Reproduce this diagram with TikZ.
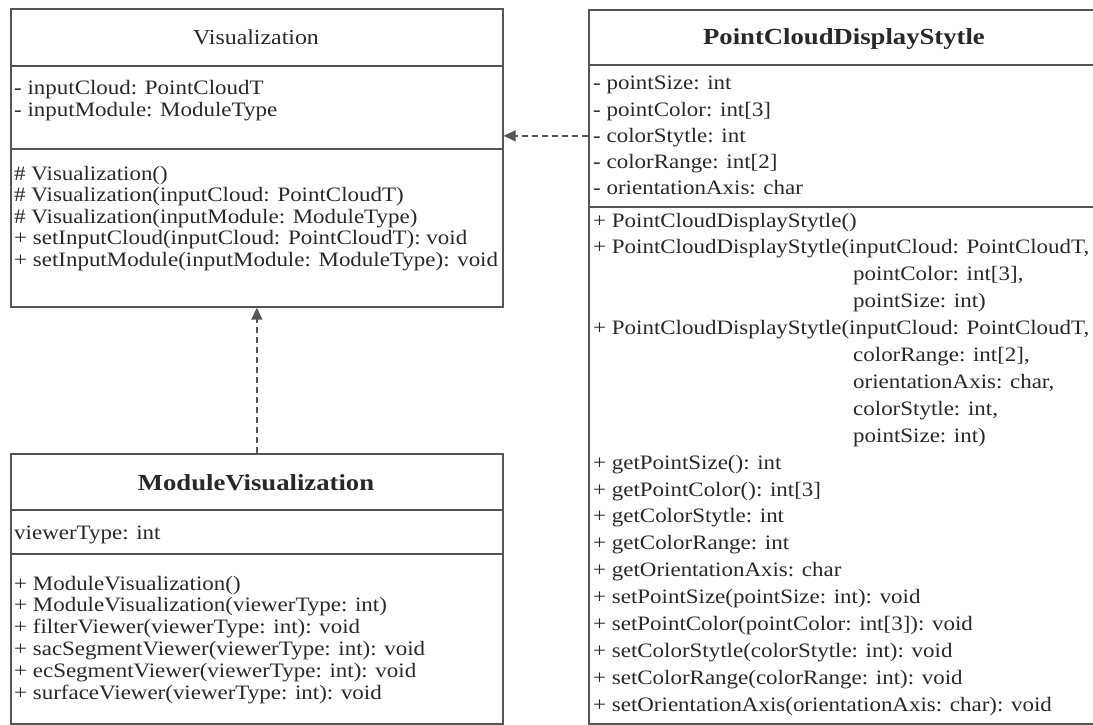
\documentclass[tikz,border=0pt]{standalone}
\usepackage{fontspec}
\setmainfont{Liberation Serif}[FakeStretch=1.12]
\newfontfamily\ttlfont{Liberation Serif}[FakeStretch=1.16]
\usetikzlibrary{arrows.meta}
\definecolor{linegray}{RGB}{85,85,85}
\definecolor{txtgray}{RGB}{40,40,40}
\begin{document}
\begin{tikzpicture}[x=1pt,y=-1pt,
  box/.style={draw=linegray, line width=1.7pt, rectangle, inner sep=0pt, anchor=north west},
  txt/.style={anchor=base west, inner sep=0pt, text=txtgray, font=\fontsize{20.5}{22}\selectfont},
  ttl/.style={anchor=base, inner sep=0pt, text=txtgray, font=\ttlfont\fontsize{23}{25}\selectfont\bfseries},
  ttlreg/.style={anchor=base, inner sep=0pt, text=txtgray, font=\fontsize{21.3}{23}\selectfont},
  dep/.style={draw=linegray, line width=1.5pt, dash pattern=on 6pt off 4pt, -{Triangle[length=12pt,width=11pt]}}
]
\useasboundingbox (0,0) rectangle (1093,725);

% ---------- Visualization ----------
\node[box, minimum width=492pt, minimum height=57pt]  (vT) at (10,8) {};
\node[box, minimum width=492pt, minimum height=83pt]  (vA) at (10,65) {};
\node[box, minimum width=492pt, minimum height=158pt] (vO) at (10,148) {};
\node[ttlreg] (vTitle) at (256,45) {Visualization};
\node[txt] (va1) at (14,95)  {- inputCloud: PointCloudT};
\node[txt] (va2) at (14,117) {- inputModule: ModuleType};
\node[txt] (vo1) at (14,180)   {\# Visualization()};
\node[txt] (vo2) at (14,201.5) {\# Visualization(inputCloud: PointCloudT)};
\node[txt] (vo3) at (14,223)   {\# Visualization(inputModule: ModuleType)};
\node[txt] (vo4) at (14,244.5) {+ setInputCloud(inputCloud: PointCloudT): void};
\node[txt] (vo5) at (14,266)   {+ setInputModule(inputModule: ModuleType): void};

% ---------- PointCloudDisplayStytle ----------
\node[box, minimum width=508pt, minimum height=55pt]  (pT) at (588,9) {};
\node[box, minimum width=508pt, minimum height=142pt] (pA) at (588,64) {};
\node[box, minimum width=508pt, minimum height=517pt] (pO) at (588,206) {};
\node[ttl] (pTitle) at (844,45) {PointCloudDisplayStytle};
\node[txt] (pa1) at (593,90)  {- pointSize: int};
\node[txt] (pa2) at (593,116) {- pointColor: int[3]};
\node[txt] (pa3) at (593,142) {- colorStytle: int};
\node[txt] (pa4) at (593,168) {- colorRange: int[2]};
\node[txt] (pa5) at (593,194) {- orientationAxis: char};
\node[txt] (po0)  at (593,227.0) {+ PointCloudDisplayStytle()};
\node[txt] (po1)  at (593,253.9) {+ PointCloudDisplayStytle(inputCloud: PointCloudT,};
\node[txt] (po2)  at (853,280.8) {pointColor: int[3],};
\node[txt] (po3)  at (853,307.7) {pointSize: int)};
\node[txt] (po4)  at (593,334.6) {+ PointCloudDisplayStytle(inputCloud: PointCloudT,};
\node[txt] (po5)  at (853,361.5) {colorRange: int[2],};
\node[txt] (po6)  at (853,388.4) {orientationAxis: char,};
\node[txt] (po7)  at (853,415.3) {colorStytle: int,};
\node[txt] (po8)  at (853,442.2) {pointSize: int)};
\node[txt] (po9)  at (593,469.1) {+ getPointSize(): int};
\node[txt] (po10) at (593,496.0) {+ getPointColor(): int[3]};
\node[txt] (po11) at (593,522.9) {+ getColorStytle: int};
\node[txt] (po12) at (593,549.8) {+ getColorRange: int};
\node[txt] (po13) at (593,576.7) {+ getOrientationAxis: char};
\node[txt] (po14) at (593,603.6) {+ setPointSize(pointSize: int): void};
\node[txt] (po15) at (593,630.5) {+ setPointColor(pointColor: int[3]): void};
\node[txt] (po16) at (593,657.4) {+ setColorStytle(colorStytle: int): void};
\node[txt] (po17) at (593,684.3) {+ setColorRange(colorRange: int): void};
\node[txt] (po18) at (593,711.2) {+ setOrientationAxis(orientationAxis: char): void};

% ---------- ModuleVisualization ----------
\node[box, minimum width=492pt, minimum height=56pt]  (mT) at (10,453) {};
\node[box, minimum width=492pt, minimum height=44pt]  (mA) at (10,509) {};
\node[box, minimum width=492pt, minimum height=170pt] (mO) at (10,553) {};
\node[ttl] (mTitle) at (256,490) {ModuleVisualization};
\node[txt] (ma1) at (14,539) {viewerType: int};
\node[txt] (mo1) at (14,590)   {+ ModuleVisualization()};
\node[txt] (mo2) at (14,611.9) {+ ModuleVisualization(viewerType: int)};
\node[txt] (mo3) at (14,633.8) {+ filterViewer(viewerType: int): void};
\node[txt] (mo4) at (14,655.7) {+ sacSegmentViewer(viewerType: int): void};
\node[txt] (mo5) at (14,677.6) {+ ecSegmentViewer(viewerType: int): void};
\node[txt] (mo6) at (14,699.5) {+ surfaceViewer(viewerType: int): void};

% ---------- connectors ----------
\draw[dep] (pA.west) -- (pA.west -| vA.east);
\draw[dep] (mT.north) -- (vO.south);
\end{tikzpicture}
\end{document}
